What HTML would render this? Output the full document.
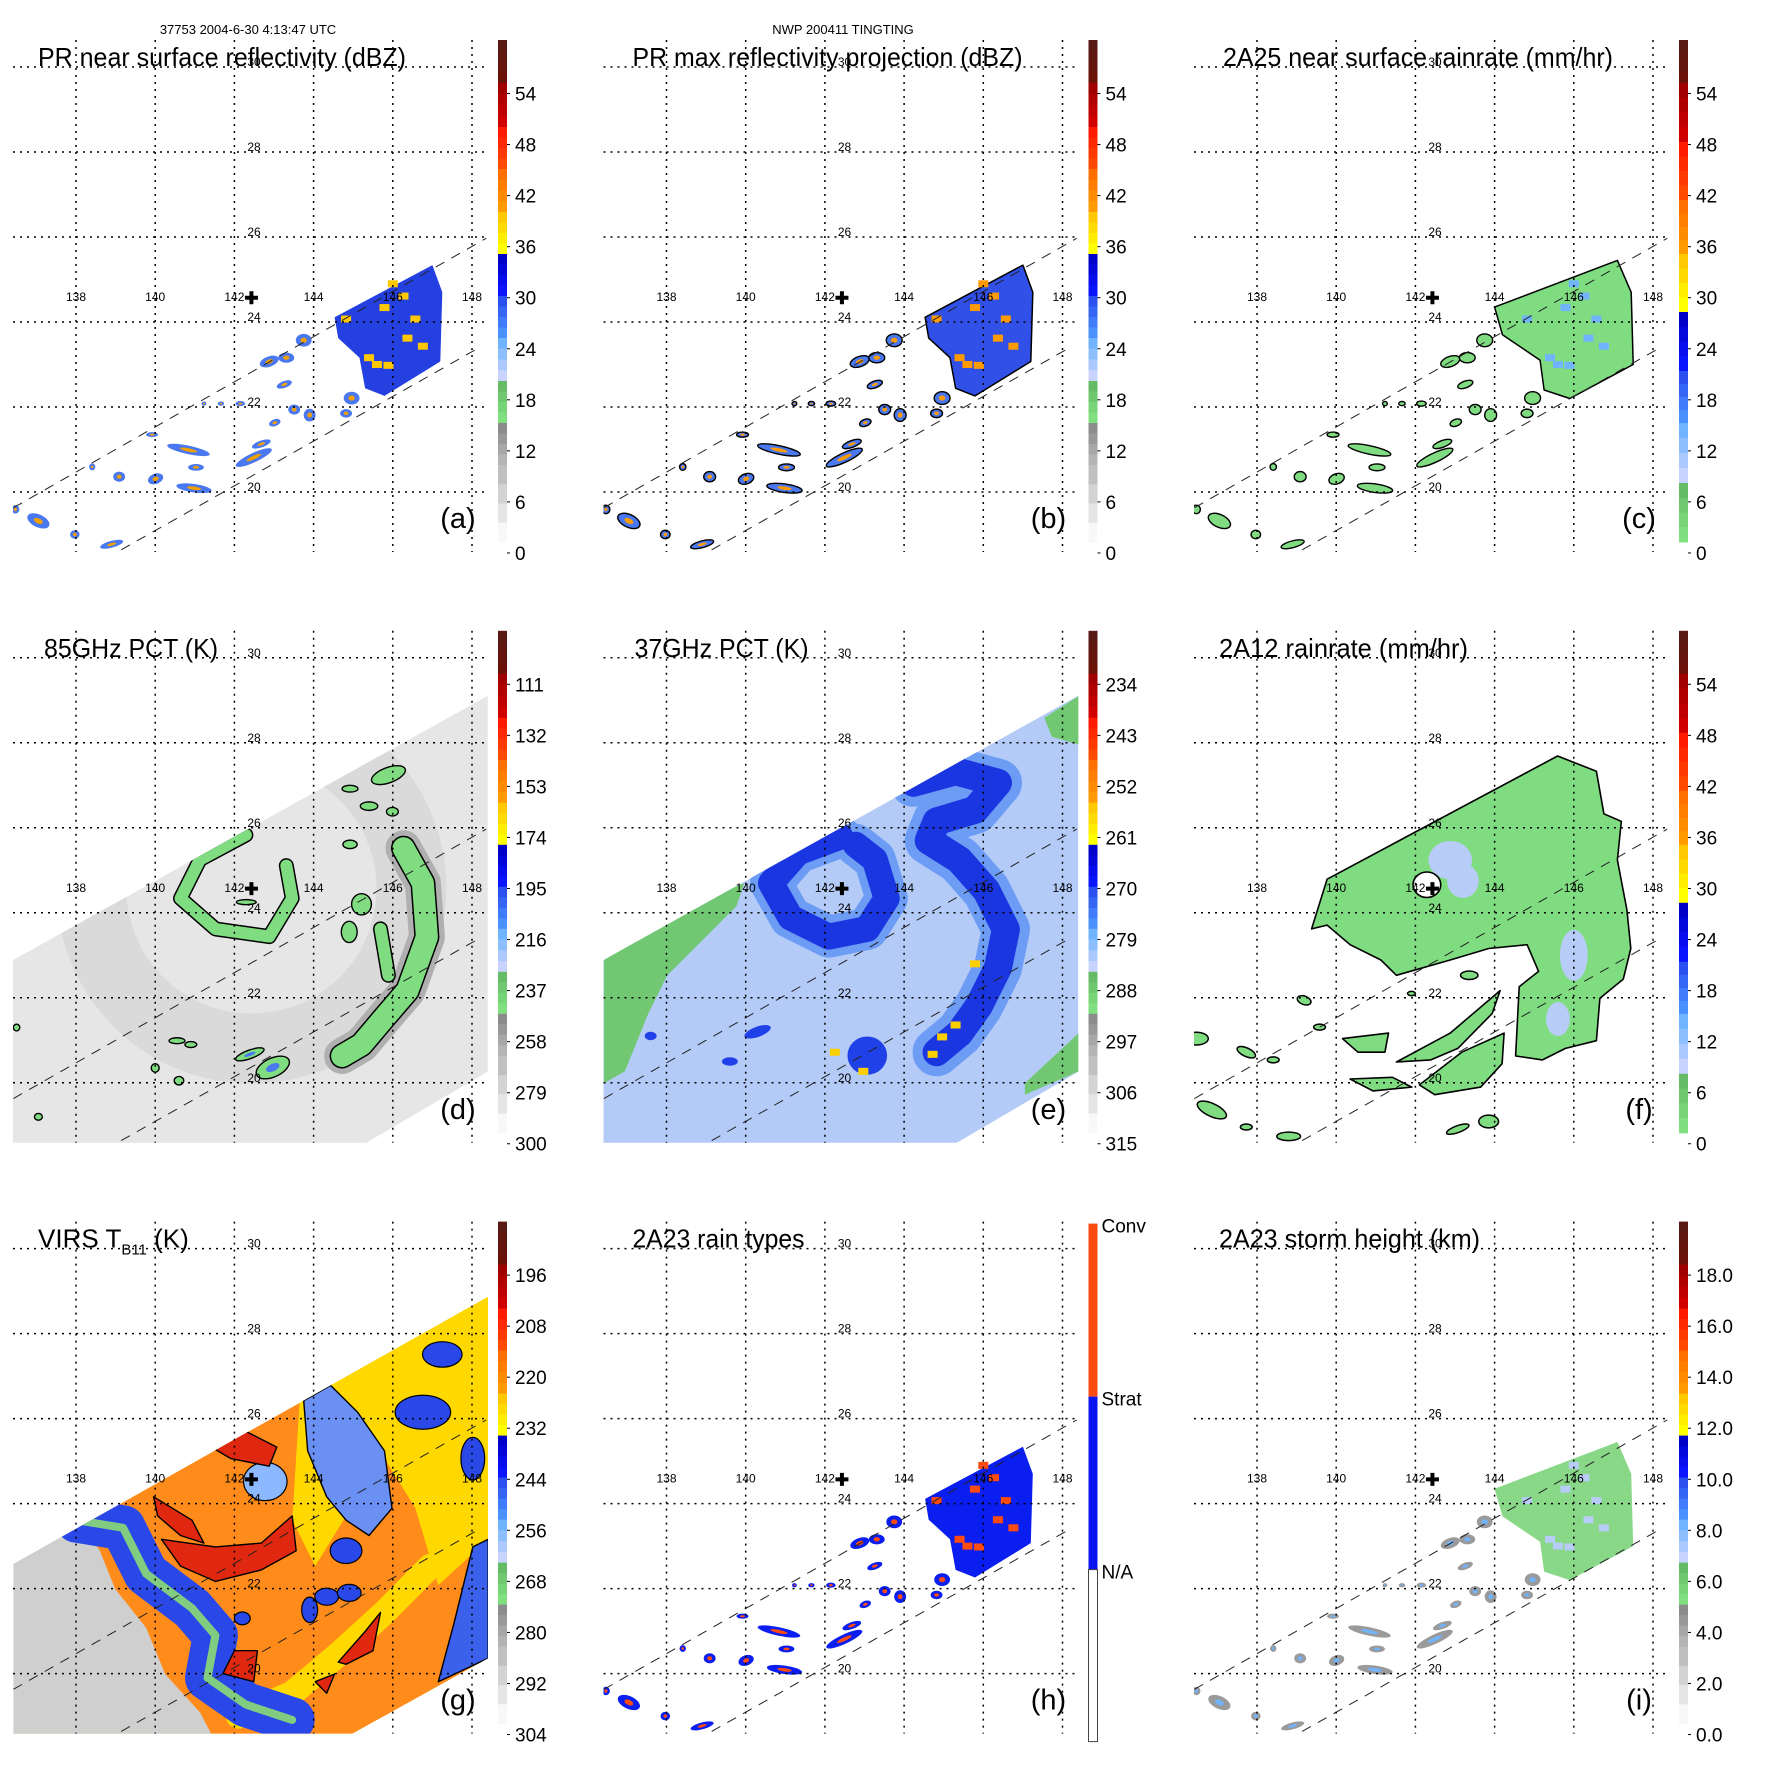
<!DOCTYPE html>
<html><head><meta charset="utf-8"><title>TRMM TINGTING multi-panel</title>
<style>
html,body{margin:0;padding:0;background:#fff;}
svg{display:block;font-family:"Liberation Sans",Arial,sans-serif;}
</style></head>
<body>
<svg id="chart" width="1771" height="1771" viewBox="0 0 1771 1771" xmlns="http://www.w3.org/2000/svg">
<rect x="0" y="0" width="1771" height="1771" fill="#fff"/>
<text x="248" y="34" font-size="13" text-anchor="middle">37753 2004-6-30 4:13:47 UTC</text>
<text x="843" y="34" font-size="13" text-anchor="middle">NWP 200411 TINGTING</text>
</svg>
<script>
// ---------------- data (lon/lat space) ----------------
const lonTicks = [138, 140, 142, 144, 146, 148];
const latTicks = [20, 22, 24, 26, 28, 30];
const stormCenter = [142.43, 24.57];
const prEdgeUpper = [[136.42, 19.63], [148.36, 25.97]];
const prEdgeLower = [[139.14, 18.64], [148.17, 23.39]];
const tmiSwath = [[136.41, 22.89], [148.4, 29.11], [148.4, 20.26], [145.17, 18.5], [136.41, 18.5]];
const virsSwath = [[136.42, 22.58], [148.41, 28.87], [148.41, 20.36], [144.62, 18.4], [136.42, 18.4]];
const prMain = [[144.53, 24.11], [147.0, 25.34], [147.25, 24.70], [147.2, 23.07], [145.79, 22.26], [145.3, 22.44], [145.16, 23.16], [144.62, 23.62]];
const prMainWide = [[144.0, 24.35], [147.1, 25.45], [147.45, 24.7], [147.5, 23.0], [145.9, 22.2], [145.25, 22.4], [145.15, 23.1], [144.2, 23.7]];
// small PR rain cells: lon, lat, rxDeg, ryDeg, angle
const prBlobs = [
 [142.88,23.07,0.25,0.12,-20],[143.31,23.16,0.2,0.12,0],[143.75,23.57,0.2,0.15,0],[143.26,22.53,0.2,0.08,-20],
 [142.15,22.08,0.12,0.06,0],[141.66,22.08,0.08,0.05,0],[141.23,22.08,0.06,0.05,0],[143.51,21.94,0.15,0.12,0],
 [143.9,21.81,0.15,0.15,0],[144.96,22.21,0.2,0.15,0],[144.82,21.85,0.15,0.1,0],[143.02,21.63,0.15,0.08,-20],
 [142.49,20.81,0.5,0.11,-25],[142.68,21.13,0.25,0.08,-20],[140.84,20.99,0.55,0.1,12],[141.03,20.58,0.2,0.08,0],
 [140.98,20.09,0.45,0.1,8],[140.01,20.31,0.2,0.12,-20],[139.09,20.36,0.15,0.12,0],[139.92,21.35,0.15,0.06,0],
 [138.41,20.59,0.08,0.08,0],[137.05,19.32,0.3,0.15,25],[137.97,19.0,0.12,0.1,0],[138.9,18.77,0.3,0.08,-15],[136.47,19.59,0.1,0.1,0]
];
const prSpecks = [[146.27,24.61],[145.79,24.34],[146.57,24.07],[145.89,22.98],[145.6,23.0],[146.76,23.43],[144.82,24.07],[146.37,23.62],[145.4,23.16],[146.0,24.9]];
// 85 GHz
const d_eyewall = [[142.29,25.83],[141.13,25.25],[140.64,24.34],[141.52,23.62],[142.88,23.44],[143.46,24.34],[143.31,25.11]];
const d_rainband = [[146.27,25.52],[146.76,24.7],[146.86,23.43],[146.37,22.17],[145.79,21.54],[145.21,20.9],[144.72,20.63]];
const d_branch = [[145.69,23.62],[145.89,22.53]];
const d_cells = [[145.89,27.24,0.45,0.18,-20],[145.4,26.51,0.22,0.1,0],[144.92,26.92,0.2,0.08,0],[145.99,26.38,0.15,0.1,0],
 [144.92,25.61,0.18,0.1,0],[145.21,24.2,0.25,0.25,0],[142.39,20.67,0.38,0.1,-20],[142.97,20.36,0.45,0.22,-25],
 [140.55,20.99,0.2,0.07,0],[140.9,20.9,0.15,0.07,0],[140.0,20.35,0.1,0.1,0],[140.6,20.05,0.12,0.1,0],
 [137.05,19.2,0.1,0.08,0],[136.5,21.3,0.08,0.08,0],[144.9,23.55,0.2,0.25,0],[142.3,24.25,0.25,0.06,0]];
// 37 GHz
const e_greenW = [[136.42,22.89],[139.28,24.43],[139.96,24.7],[139.77,24.16],[138.99,23.43],[138.02,22.53],[137.54,21.63],[136.95,20.27],[136.42,19.99]];
const e_greenNE = [[147.54,28.59],[148.41,29.1],[148.41,27.96],[147.73,28.14]];
const e_greenSE = [[147.05,19.99],[148.41,21.17],[148.41,20.27],[147.05,19.72]];
const e_eyewall = [[142.39,25.79],[141.32,25.42],[140.64,24.7],[141.13,23.89],[142.1,23.44],[143.07,23.62],[143.56,24.34],[143.26,25.25],[142.78,25.6]];
const e_spiral = [[144.24,27.06],[145.3,27.33],[146.37,27.06],[145.79,26.42],[144.82,26.15],[144.62,25.7],[145.4,25.24],[146.08,24.52],[146.57,23.61],[146.37,22.71],[145.89,21.81],[145.4,21.17],[144.82,20.72]];
const e_cells = [[143.07,20.64,0.5,0.45,0],[140.3,21.2,0.35,0.12,-20],[139.6,20.5,0.2,0.1,0],[137.6,21.1,0.15,0.1,0]];
const e_hot = [[142.25,20.72],[142.97,20.27],[145.79,22.8],[145.3,21.36],[144.96,21.08],[144.72,20.67]];
// 2A12
const f_main = [[139.77,24.79],[145.59,27.69],[146.57,27.33],[146.76,26.33],[147.2,26.15],[147.1,25.24],[147.34,24.07],[147.44,23.16],[147.25,22.44],[146.66,21.99],[146.57,20.99],[145.79,20.81],[145.21,20.54],[144.53,20.63],[144.62,22.26],[145.11,22.62],[144.82,23.25],[143.85,23.16],[142.88,22.89],[141.52,22.53],[141.13,22.89],[140.35,23.25],[139.77,23.71],[139.38,23.62]];
const f_arm1 = [[141.52,20.49],[142.88,21.17],[144.14,22.17],[143.94,21.63],[143.07,20.81],[142.39,20.54]];
const f_arm2 = [[142.1,19.95],[143.17,20.72],[144.24,21.17],[144.19,20.45],[143.65,19.9],[142.49,19.72]];
const f_arm3 = [[140.35,20.09],[141.42,20.13],[141.91,19.9],[140.93,19.81]];
const f_arm4 = [[140.16,21.04],[141.32,21.17],[141.23,20.72],[140.55,20.72]];
const f_cells = [[136.47,21.04,0.3,0.15,0],[137.73,20.72,0.25,0.1,25],[139.19,21.94,0.18,0.1,20],[139.58,21.31,0.15,0.07,0],
 [138.41,20.54,0.15,0.07,0],[136.86,19.36,0.4,0.15,25],[137.73,18.96,0.15,0.07,0],[138.8,18.74,0.3,0.1,0],
 [143.07,18.91,0.3,0.08,-20],[143.85,19.09,0.25,0.15,0],[143.36,22.53,0.22,0.1,0],[141.9,22.1,0.1,0.05,0]];
const f_lightblue = [[142.88,25.24,0.55,0.45,0],[143.2,24.75,0.4,0.4,0],[146.0,23.0,0.35,0.6,0],[145.6,21.5,0.3,0.4,0]];
const f_eye = [142.29, 24.66, 0.35, 0.3];
// VIRS
const g_gray = [[136.42,22.58],[138.12,23.52],[138.6,22.89],[138.99,21.99],[139.77,21.08],[140.25,19.99],[141.13,19.09],[141.52,18.4],[136.42,18.4]];
const g_ribbon = [[138.02,23.61],[139.19,23.43],[139.77,22.35],[140.93,21.54],[141.52,20.9],[141.32,19.9],[142.29,19.27],[143.46,18.91]];
const g_yellow = [[143.65,26.42],[148.41,28.87],[148.41,23.16],[147.15,22.08],[146.57,23.89],[145.79,25.06],[144.82,23.71],[144.04,22.53],[143.46,23.61]];
const g_yellowBand = [[142.1,19.0],[143.46,19.54],[144.62,20.45],[145.79,21.44],[146.95,22.53]];
const g_blueE = [[147.15,19.81],[147.54,21.17],[148.02,22.98],[148.41,23.16],[148.41,20.36]];
const g_blueMid = [[143.75,26.42],[144.43,26.78],[145.11,26.15],[145.79,25.24],[145.98,23.89],[145.4,23.25],[144.82,23.61],[144.33,24.16],[143.85,25.24]];
const g_blueCells = [[144.82,22.89,0.4,0.3,0],[144.33,21.81,0.3,0.2,0],[146.76,26.15,0.7,0.4,0],[147.25,27.51,0.5,0.3,0],[148.02,25.06,0.3,0.5,0],[143.9,21.5,0.2,0.3,0],[144.9,21.9,0.3,0.2,0],[142.2,21.3,0.2,0.15,0]];
const g_eye = [142.78, 24.52, 0.55, 0.45];
const g_red1 = [[139.96,24.16],[140.93,23.61],[141.23,23.07],[140.64,23.25],[140.06,23.71]];
const g_red2 = [[140.16,23.16],[141.52,22.98],[142.68,23.07],[143.46,23.71],[143.56,22.89],[142.68,22.44],[141.52,22.17],[140.64,22.53]];
const g_red3 = [[141.42,25.33],[142.29,25.7],[143.07,25.33],[142.88,24.88],[141.91,25.06]];
const g_red4 = [[144.62,20.27],[145.3,20.99],[145.69,21.44],[145.5,20.54],[144.82,20.22]];
const g_red5 = [[141.71,20.0],[142.0,20.54],[142.58,20.54],[142.49,19.81]];
const g_red6 = [[144.04,19.81],[144.53,19.99],[144.33,19.54]];
// colorbar tick labels
const tickDBZ = ['54','48','42','36','30','24','18','12','6','0'];
const tick85 = ['111','132','153','174','195','216','237','258','279','300'];
const tick37 = ['234','243','252','261','270','279','288','297','306','315'];
const tickVIRS = ['196','208','220','232','244','256','268','280','292','304'];
const tickHgt = ['18.0','16.0','14.0','12.0','10.0','8.0','6.0','4.0','2.0','0.0'];
const rainTypes = ['Conv','Strat','N/A'];

// ---------------- rendering ----------------
const NS = 'http://www.w3.org/2000/svg';
const svg = document.getElementById('chart');
function mk(parent, tag, attrs) { const e = document.createElementNS(NS, tag); for (const k in attrs) e.setAttribute(k, attrs[k]); parent.appendChild(e); return e; }
const X = lon => 76 + (lon - 138) * 39.6;
const Y = lat => 67 + (30 - lat) * 42.5;
const P = arr => arr.map(p => X(p[0]).toFixed(1) + ',' + Y(p[1]).toFixed(1)).join(' ');
function poly(g, arr, fill, stroke, sw, name) {
  const e = mk(g, 'polygon', { points: P(arr), fill: fill, stroke: stroke || 'none', 'stroke-width': sw || 0, 'stroke-linejoin': 'round' });
  
  
  return e;
}
function band(g, arr, color, w, name, op) {
  const e = mk(g, 'polyline', { points: P(arr), fill: 'none', stroke: color, 'stroke-width': w, 'stroke-linejoin': 'round', 'stroke-linecap': 'round', opacity: op || 1 });
  
  
  return e;
}
function blob(g, b, fill, stroke, sw, name, scale) {
  const s = scale || 1;
  const cx = X(b[0]), cy = Y(b[1]);
  const e = mk(g, 'ellipse', { cx: cx, cy: cy, rx: b[2] * 39.6 * s, ry: b[3] * 42.5 * s, fill: fill, stroke: stroke || 'none', 'stroke-width': sw || 0, transform: 'rotate(' + (b[4] || 0) + ' ' + cx + ' ' + cy + ')' });
  
  
  return e;
}
function speck(g, p, r, fill, name) {
  const e = mk(g, 'rect', { x: X(p[0]) - r, y: Y(p[1]) - r * 0.7, width: 2 * r, height: 1.4 * r, fill: fill });
  
  
}
function lerp(a, b, t) {
  const pa = [1, 3, 5].map(i => parseInt(a.substr(i, 2), 16)), pb = [1, 3, 5].map(i => parseInt(b.substr(i, 2), 16));
  return '#' + pa.map((v, i) => Math.round(v + (pb[i] - v) * t).toString(16).padStart(2, '0')).join('');
}
const palStd = [[40,83,'#5a1a14','#6a1208'],[83,127,'#a00000','#d00000'],[127,169,'#ff1a00','#ff4a00'],[169,212,'#ff7000','#ff9a00'],[212,254,'#ffc800','#ffff00'],[254,296,'#0000c8','#0a14ff'],[296,338,'#2a50f0','#4a90ff'],[338,381,'#70b4ff','#c8d4ff'],[381,423,'#66bb66','#80e080'],[423,465,'#8c8c8c','#b4b4b4'],[465,542,'#c0c0c0','#f8f8f8']];
const palRain = [[40,83,'#5a1a14','#6a1208'],[83,142,'#a00000','#d00000'],[142,200,'#ff1a00','#ff4a00'],[200,254,'#ff7000','#ff9a00'],[254,312,'#ffc800','#ffff00'],[312,371,'#0000c8','#0a14ff'],[371,423,'#2a50f0','#4a90ff'],[423,483,'#70b4ff','#c8d4ff'],[483,542,'#66bb66','#80e080']];

function colorbar(g, pal, labels) {
  const cb = mk(g, 'g', {});
  
  
  pal.forEach(s => {
    const n = 4, h = (s[1] - s[0]) / n;
    for (let i = 0; i < n; i++) {
      const r = mk(cb, 'rect', { x: 498, y: s[0] + i * h, width: 9, height: h + 0.5, fill: lerp(s[2], s[3], i / (n - 1)) });
      
      
    }
  });
  labels.forEach((lab, i) => {
    const y = 93.5 + i * 51.05;
    const t = mk(cb, 'line', { x1: 507, x2: 510, y1: y, y2: y, stroke: '#000', 'stroke-width': 1 });
    
    
    const tx = mk(cb, 'text', { x: 515, y: y + 7, 'font-size': 19 });
    tx.textContent = lab;
    
    
  });
}
function rainTypeBar(g) {
  const cb = mk(g, 'g', {});
  
  
  const cols = ['#ff4a10', '#0a14f0', '#ffffff'];
  const ys = [42, 215, 388, 560];
  rainTypes.forEach((lab, i) => {
    const r = mk(cb, 'rect', { x: 498, y: ys[i], width: 9, height: ys[i + 1] - ys[i], fill: cols[i], stroke: i === 2 ? '#444' : 'none', 'stroke-width': 1 });
    
    
    const tx = mk(cb, 'text', { x: 511, y: ys[i] + 9, 'font-size': 19 });
    tx.textContent = lab;
    
    
  });
}

// panel content painters
function prCells(g, fill, core, stroke, mainFill, mainPoly, speckCol) {
  poly(g, mainPoly, mainFill, stroke, stroke ? 1.5 : 0, 'pr-main-rain-area');
  prSpecks.forEach(p => speck(g, p, 5, speckCol, 'pr-intense-cell'));
  prBlobs.forEach(b => blob(g, b, fill, stroke, stroke ? 1.4 : 0, 'pr-rain-cell'));
  prBlobs.forEach(b => blob(g, b, core, 'none', 0, 'pr-rain-core', 0.4));
}
function swathGroup(g, id) {
  const s = mk(g, 'g', { 'clip-path': 'url(#' + id + ')' });
  
  
  return s;
}
const painters = {
  a(g) { prCells(g, '#4a78f0', '#f0a000', null, '#2440e0', prMain, '#ffc800'); },
  b(g) { prCells(g, '#4a78f0', '#ff9a00', '#000', '#3050e8', prMain, '#ff9a00'); },
  c(g) { prCells(g, '#80dc80', '#80dc80', '#000', '#80dc80', prMainWide, '#70b4ff'); },
  d(g0) {
    const g = swathGroup(g0, 'tmiclip');
    poly(g, tmiSwath, '#e6e6e6', null, 0, 'tmi-swath');
    const ring = mk(g, 'circle', { cx: X(stormCenter[0]), cy: Y(stormCenter[1]), r: 160, fill: 'none', stroke: '#cdcdcd', 'stroke-width': 70, opacity: 0.45 });
    
    
    band(g, d_rainband, '#b0b0b0', 36, 'rainband-halo');
    band(g, d_eyewall, '#000', 15, 'eyewall-contour');
    band(g, d_eyewall, '#80dc80', 12, 'eyewall');
    band(g, d_rainband, '#000', 25, 'rainband-contour');
    band(g, d_rainband, '#80dc80', 22, 'rainband');
    band(g, d_branch, '#000', 15, 'rainband-branch-contour');
    band(g, d_branch, '#80dc80', 12, 'rainband-branch');
    d_cells.forEach(b => blob(g, b, '#80dc80', '#000', 1.4, 'convective-cell'));
    d_cells.slice(6, 8).forEach(b => blob(g, b, '#4a78f0', 'none', 0, 'convective-core', 0.4));
  },
  e(g0) {
    const g = swathGroup(g0, 'tmiclip');
    poly(g, tmiSwath, '#b4cbf8', null, 0, 'tmi-swath');
    band(g, e_eyewall, '#6c9cf4', 42, 'eyewall-halo');
    band(g, e_spiral, '#6c9cf4', 48, 'spiral-halo');
    band(g, e_eyewall, '#1a36e0', 26, 'eyewall');
    band(g, e_spiral, '#1a36e0', 28, 'spiral-band');
    e_cells.forEach(b => blob(g, b, '#2040e8', 'none', 0, 'rain-cell'));
    poly(g, e_greenW, '#72c872', null, 0, 'land-or-clear-west');
    poly(g, e_greenNE, '#72c872', null, 0, 'clear-northeast');
    poly(g, e_greenSE, '#72c872', null, 0, 'clear-southeast');
    e_hot.forEach(p => speck(g, p, 5, '#ffd000', 'scattering-hot-spot'));
  },
  f(g) {
    poly(g, f_main, '#80dc80', '#000', 1.6, 'rain-shield');
    [f_arm1, f_arm2, f_arm3, f_arm4].forEach(a => poly(g, a, '#80dc80', '#000', 1.6, 'rain-arm'));
    f_cells.forEach(b => blob(g, b, '#80dc80', '#000', 1.5, 'rain-cell'));
    f_lightblue.forEach(b => blob(g, b, '#b8ccf8', 'none', 0, 'moderate-rain', 1));
    blob(g, f_eye, '#ffffff', '#000', 1.6, 'eye');
  },
  g(g0) {
    const g = swathGroup(g0, 'virsclip');
    poly(g, virsSwath, '#ff8c1a', null, 0, 'virs-swath');
    poly(g, g_yellow, '#ffd800', null, 0, 'warm-cloud-area');
    band(g, g_yellowBand, '#ffd800', 25, 'warm-band');
    poly(g, g_gray, '#cfcfcf', null, 0, 'clear-sky-area');
    band(g, g_ribbon, '#2a48e8', 45, 'cloud-edge-band');
    band(g, g_ribbon, '#80cc80', 8, 'cloud-edge-low');
    poly(g, g_blueE, '#3a60ec', '#000', 1.4, 'east-cloud-edge');
    poly(g, g_blueMid, '#6a90f4', '#000', 1.4, 'outer-band-cloud');
    g_blueCells.forEach(b => blob(g, b, '#2a48e8', '#000', 1.2, 'mid-cloud-cell'));
    blob(g, g_eye, '#8cb8ff', '#000', 1.2, 'eye-region');
    [g_red1, g_red2, g_red3, g_red4, g_red5, g_red6].forEach(r => poly(g, r, '#e02810', '#000', 1.4, 'cold-cloud-top'));
  },
  h(g) { prCells(g, '#0a1ef0', '#ff4a10', null, '#0a1ef0', prMain, '#ff4a10'); },
  i(g) { prCells(g, '#9a9a9a', '#70b4ff', null, '#88d888', prMainWide, '#b8ccf8'); }
};

const panels = [
  { id: 'a', col: 0, row: 0, title: 'PR near surface reflectivity (dBZ)', tx: 38, tw: 368, ticks: tickDBZ, pal: palStd },
  { id: 'b', col: 1, row: 0, title: 'PR max reflectivity projection (dBZ)', tx: 42, tw: 390, ticks: tickDBZ, pal: palStd },
  { id: 'c', col: 2, row: 0, title: '2A25 near surface rainrate (mm/hr)', tx: 42, tw: 390, ticks: tickDBZ, pal: palRain },
  { id: 'd', col: 0, row: 1, title: '85GHz PCT (K)', tx: 44, tw: 174, ticks: tick85, pal: palStd },
  { id: 'e', col: 1, row: 1, title: '37GHz PCT (K)', tx: 44, tw: 174, ticks: tick37, pal: palStd },
  { id: 'f', col: 2, row: 1, title: '2A12 rainrate (mm/hr)', tx: 38, tw: 249, ticks: tickDBZ, pal: palRain },
  { id: 'g', col: 0, row: 2, title: null, tx: 38, tw: 147, ticks: tickVIRS, pal: palStd },
  { id: 'h', col: 1, row: 2, title: '2A23 rain types', tx: 42, tw: 172, ticks: null, pal: null },
  { id: 'i', col: 2, row: 2, title: '2A23 storm height (km)', tx: 38, tw: 261, ticks: tickHgt, pal: palStd }
];

const defs = mk(svg, 'defs', {});
const cp = mk(defs, 'clipPath', { id: 'mapclip' });
mk(cp, 'rect', { x: 13, y: 40, width: 475, height: 512 });
const cpT = mk(defs, 'clipPath', { id: 'tmiclip' });
mk(cpT, 'polygon', { points: P(tmiSwath) });
const cpV = mk(defs, 'clipPath', { id: 'virsclip' });
mk(cpV, 'polygon', { points: P(virsSwath) });

panels.forEach(p => {
  const g = mk(svg, 'g', { transform: 'translate(' + (p.col * 590.5) + ',' + (p.row * 590.8) + ')' });
  
  
  const map = mk(g, 'g', { 'clip-path': 'url(#mapclip)' });
  
  
  painters[p.id](map);
  [prEdgeUpper, prEdgeLower].forEach(ed => {
    const l = mk(map, 'line', { x1: X(ed[0][0]), y1: Y(ed[0][1]), x2: X(ed[1][0]), y2: Y(ed[1][1]), stroke: '#222', 'stroke-width': 1, 'stroke-dasharray': '10,8' });
    
    
  });
  lonTicks.forEach(lon => {
    const l = mk(g, 'line', { x1: X(lon), x2: X(lon), y1: 40, y2: 552, stroke: '#000', 'stroke-width': 1.5, 'stroke-dasharray': '2,5' });
    
    
    const t = mk(g, 'text', { x: X(lon), y: 301, 'font-size': 12, 'text-anchor': 'middle' });
    t.textContent = String(lon);
    
    
  });
  latTicks.forEach(lat => {
    const l = mk(g, 'line', { x1: 13, x2: 488, y1: Y(lat), y2: Y(lat), stroke: '#000', 'stroke-width': 1.5, 'stroke-dasharray': '2,5' });
    
    
    const t = mk(g, 'text', { x: 254, y: Y(lat) - 1, 'font-size': 12, 'text-anchor': 'middle' });
    t.textContent = String(lat);
    
    
  });
  const cx = X(stormCenter[0]), cy = Y(stormCenter[1]);
  const cr = mk(g, 'path', { d: 'M' + (cx - 6.5) + ' ' + (cy - 2) + 'h13v4h-13z M' + (cx - 2) + ' ' + (cy - 6.5) + 'h4v13h-4z', fill: '#000' });
  
  
  const tt = mk(g, 'text', { x: p.tx, y: 66, 'font-size': 26, textLength: p.tw, lengthAdjust: 'spacingAndGlyphs' });
  if (p.title) { tt.textContent = p.title; }
  else {
    const s1 = mk(tt, 'tspan', {}); s1.textContent = 'VIRS T';
    const s2 = mk(tt, 'tspan', { 'font-size': 15, dy: 7 }); s2.textContent = 'B11';
    const s3 = mk(tt, 'tspan', { dy: -7 }); s3.textContent = ' (K)';
    tt.removeAttribute('textLength');
  }
  
  
  const lt = mk(g, 'text', { x: 458, y: 528, 'font-size': 29, 'text-anchor': 'middle' });
  lt.textContent = '(' + p.id + ')';
  
  
  if (p.pal) colorbar(g, p.pal, p.ticks); else rainTypeBar(g);
});
</script>
</body></html>
